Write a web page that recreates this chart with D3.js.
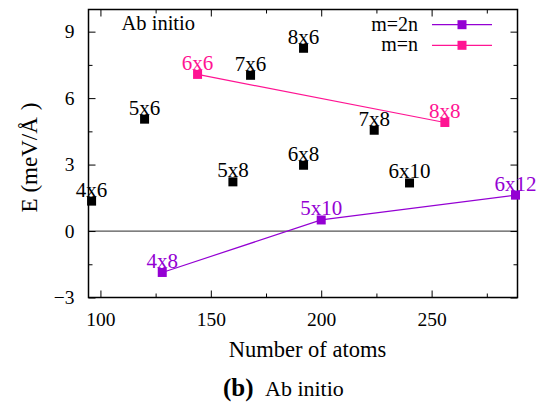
<!DOCTYPE html>
<html><head><meta charset="utf-8">
<script src="https://cdn.jsdelivr.net/npm/d3@7"></script>
<style>body{margin:0;background:#fff}svg{display:block}svg text{font-family:"Liberation Serif","Times New Roman","DejaVu Serif",serif}</style>
</head><body><svg id="c" width="538" height="402"></svg>
<script>
// Data: atoms = 4*m*n
const otherLabels = ["4x6","5x6","7x6","8x6","5x8","6x8","7x8","6x10"];
const otherAtoms  = [96,120,168,192,160,192,224,240];
const otherE      = [1.35,5.05,7.03,8.25,2.22,2.97,4.55,2.17];

const eqLabels = ["6x6","8x8"];           // m=n
const eqAtoms  = [144,256];
const eqE      = [7.07,4.9];

const dblLabels = ["4x8","5x10","6x12"];  // m=2n
const dblAtoms  = [128,200,288];
const dblE      = [-1.87,0.5,1.62];

const xTicks = [100,150,200,250];
const yTicks = [-3,0,3,6,9];

(function(){
const svg = d3.select("#c");
const L=88.5, R=517.5, T=9.5, B=297.5;
const x = d3.scaleLinear().domain([94.6,288.9]).range([L,R]);
const y = d3.scaleLinear().domain([-3,10]).range([B,T]);
const TFS = 19.5, LFS = 21, AFS = 22.5;
const purple="#9400d3", pink="#ff1493";

// zero line
svg.append("line").attr("x1",L).attr("x2",R).attr("y1",y(0)).attr("y2",y(0))
  .attr("stroke","#555").attr("stroke-width",1.2);

// axes with ticks inward
const axB = d3.axisBottom(x).tickValues(xTicks).tickSize(-7).tickPadding(15).tickFormat(d3.format("d"));
const gb = svg.append("g").attr("transform",`translate(0,${B})`).call(axB);
svg.append("g").attr("transform",`translate(0,${T})`).call(d3.axisTop(x).tickValues(xTicks).tickSize(-7).tickFormat(""));
const axL = d3.axisLeft(y).tickValues(yTicks).tickSize(-7).tickPadding(14).tickFormat(d=>d<0?"\u2212"+(-d):d);
svg.append("g").attr("transform",`translate(${L},0)`).call(axL);
svg.append("g").attr("transform",`translate(${R},0)`).call(d3.axisRight(y).tickValues(yTicks).tickSize(-7).tickFormat(""));
// minor ticks
const xMinor=[125,175,225,275], yMinor=[-1.5,1.5,4.5,7.5];
svg.append("g").attr("transform",`translate(0,${B})`).call(d3.axisBottom(x).tickValues(xMinor).tickSize(-4).tickFormat(""));
svg.append("g").attr("transform",`translate(0,${T})`).call(d3.axisTop(x).tickValues(xMinor).tickSize(-4).tickFormat(""));
svg.append("g").attr("transform",`translate(${L},0)`).call(d3.axisLeft(y).tickValues(yMinor).tickSize(-4).tickFormat(""));
svg.append("g").attr("transform",`translate(${R},0)`).call(d3.axisRight(y).tickValues(yMinor).tickSize(-4).tickFormat(""));
svg.selectAll(".domain").remove();
svg.selectAll("g").attr("font-family",null);
svg.selectAll(".tick line").attr("stroke","#000").attr("stroke-width",1);
svg.selectAll(".tick text").attr("font-size",TFS).attr("fill","#000");
gb.selectAll(".tick text").attr("dy","0.71em");
// frame
svg.append("rect").attr("x",L).attr("y",T).attr("width",R-L).attr("height",B-T)
  .attr("fill","none").attr("stroke","#000").attr("stroke-width",1.5);

// lines
const line = d3.line().x(d=>x(d[0])).y(d=>y(d[1]));
svg.append("path").attr("d",line(eqAtoms.map((a,i)=>[a,eqE[i]]))).attr("fill","none").attr("stroke",pink).attr("stroke-width",1.2);
svg.append("path").attr("d",line(dblAtoms.map((a,i)=>[a,dblE[i]]))).attr("fill","none").attr("stroke",purple).attr("stroke-width",1.2);

const S=9;
function pts(labels,atoms,E,color){
  atoms.forEach((a,i)=>{
    svg.append("rect").attr("x",x(a)-S/2).attr("y",y(E[i])-S/2).attr("width",S).attr("height",S).attr("fill",color);
  });
  atoms.forEach((a,i)=>{
    svg.append("text").attr("x",x(a)).attr("y",y(E[i])-4.5).attr("text-anchor","middle")
      .attr("font-size",LFS).attr("fill",color).text(labels[i]);
  });
}
pts(otherLabels,otherAtoms,otherE,"#000");
pts(eqLabels,eqAtoms,eqE,pink);
pts(dblLabels,dblAtoms,dblE,purple);

// inner title
svg.append("text").attr("x",121.5).attr("y",29.5).attr("font-size",20.5).text("Ab initio");

// legend
const leg=[["m=2n",purple,24.7],["m=n",pink,45.3]];
leg.forEach(([t,c,yy])=>{
  svg.append("text").attr("x",418).attr("y",yy+6).attr("text-anchor","end").attr("font-size",20).text(t);
  svg.append("line").attr("x1",432).attr("x2",492).attr("y1",yy).attr("y2",yy).attr("stroke",c).attr("stroke-width",1.2);
  svg.append("rect").attr("x",462-S/2).attr("y",yy-S/2).attr("width",S).attr("height",S).attr("fill",c);
});

// axis labels
const yl = svg.append("text").attr("transform","translate(36.5,157.5) rotate(-90)").attr("text-anchor","middle")
  .attr("font-size",23);
yl.append("tspan").text("E (meV/Å");
yl.append("tspan").attr("dx",7).text(")");
svg.append("text").attr("x",307.5).attr("y",357).attr("text-anchor","middle").attr("font-size",AFS).text("Number of atoms");
const cap = svg.append("text").attr("x",223).attr("y",396).attr("font-size",22);
cap.append("tspan").attr("font-weight","bold").attr("font-size",25).text("(b)");
cap.append("tspan").attr("x",265).text("Ab initio");
})();
</script></body></html>
